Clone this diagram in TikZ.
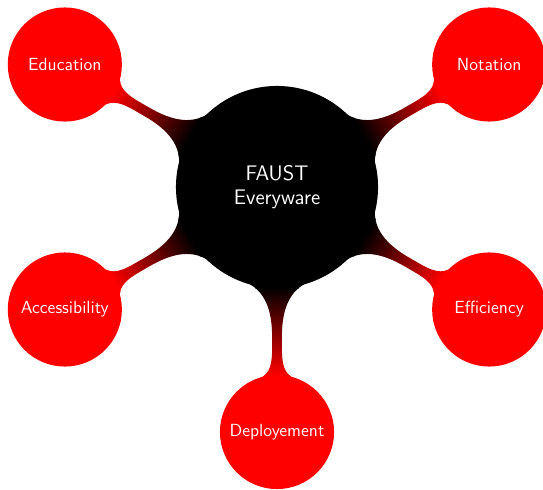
\documentclass[tikz,border=0pt]{standalone}
\usetikzlibrary{mindmap}
\begin{document}
\begin{tikzpicture}[mindmap, concept color=black, text=white,
  every node/.append style={font=\sffamily},
  root concept/.append style={minimum size=4cm, text width=3.5cm},
  level 1 concept/.append style={level distance=4.9cm, minimum size=2.24cm, text width=2cm, font=\sffamily}]
\useasboundingbox (-5.54,-6.04) rectangle (5.32,3.74);
\node[concept, font=\sffamily\large] (root) at (0,0) {FAUST\\Everyware}
  child[concept color=red, grow=150] {node[concept, font=\sffamily] (edu) {Education}}
  child[concept color=red, grow=30] {node[concept, font=\sffamily] (nota) {Notation}}
  child[concept color=red, grow=-150] {node[concept, font=\sffamily] (acc) {Accessibility}}
  child[concept color=red, grow=-30] {node[concept, font=\sffamily] (eff) {Efficiency}}
  child[concept color=red, grow=-90] {node[concept, font=\sffamily] (dep) {Deployement}};
\end{tikzpicture}
\end{document}
